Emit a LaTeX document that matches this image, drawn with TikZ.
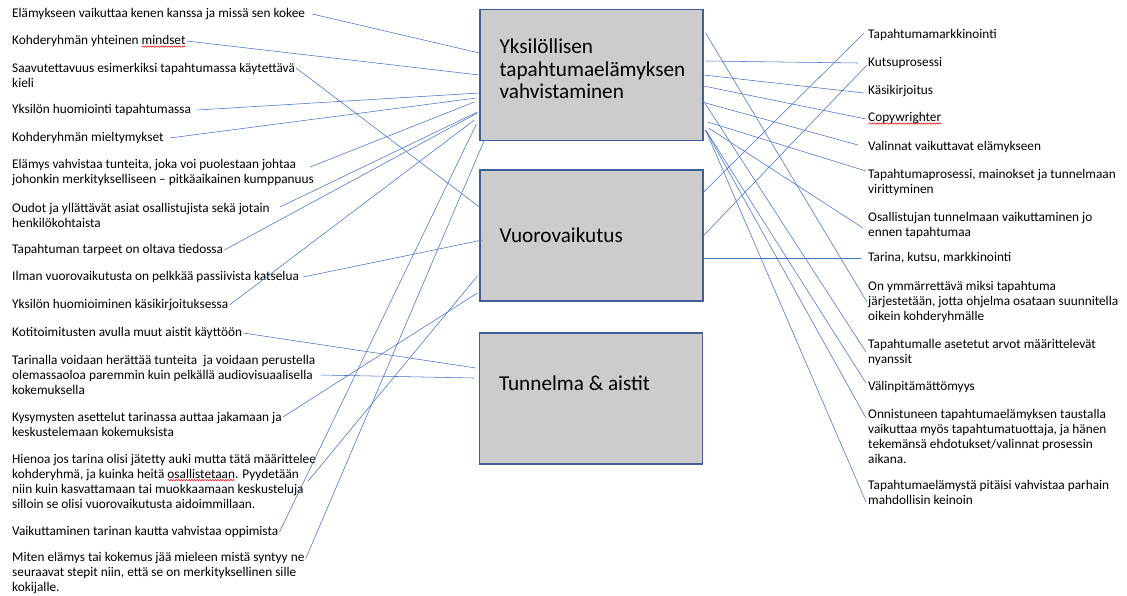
\documentclass[tikz,border=0pt]{standalone}
\usepackage{fontspec}
\setmainfont{Carlito}
\usetikzlibrary{positioning,decorations.pathmorphing}
\definecolor{linkblue}{HTML}{4472C4}
\definecolor{boxgray}{HTML}{CCCCCC}
\definecolor{boxline}{HTML}{3F5E9A}
\newsavebox\spellbox
\newcommand\spell[1]{\sbox\spellbox{#1}\rlap{\raisebox{-3pt}[0pt][0pt]{\tikz\draw[red,line width=0.5pt,decorate,decoration={snake,amplitude=0.7pt,segment length=2.6pt}] (0pt,0pt) -- (\wd\spellbox,0pt);}}#1}

\begin{document}
\begin{tikzpicture}[x=1pt,y=-1pt,
  note/.style={font=\fontsize{13.3}{15}\selectfont,align=left,inner sep=1pt,anchor=west},
  topic/.style={draw=boxline,line width=1.2pt,fill=boxgray,minimum width=223pt,minimum height=131pt,inner sep=0pt},
  topictext/.style={font=\fontsize{21.2}{22.5}\selectfont,align=left,inner sep=0pt,anchor=west},
  link/.style={draw=linkblue,line width=0.55pt}]
\useasboundingbox (0,0) rectangle (1127,595);

\node[topic] (y1) at (591.5,75) {};
\node[topic] (v1) at (591.5,235.5) {};
\node[topic] (t1) at (591,398.5) {};
\node[topictext,right=20pt of y1.west,yshift=6pt] (y1txt) {Yksilöllisen\\tapahtumaelämyksen\\vahvistaminen};
\node[topictext,right=20pt of v1.west] (v1txt) {Vuorovaikutus};
\node[topictext,right=20pt of t1.west,yshift=15pt] (t1txt) {Tunnelma \& aistit};

\node[note] (l1) at (11,14) {Elämykseen vaikuttaa kenen kanssa ja missä sen kokee};
\node[note] (l2) at (11,41) {Kohderyhmän yhteinen \spell{mindset}};
\node[note] (l3) at (11,75.5) {Saavutettavuus esimerkiksi tapahtumassa käytettävä\\kieli};
\node[note] (l4) at (11,110) {Yksilön huomiointi tapahtumassa};
\node[note] (l5) at (11,138) {Kohderyhmän mieltymykset};
\node[note] (l6) at (11,173) {Elämys vahvistaa tunteita, joka voi puolestaan johtaa\\johonkin merkitykselliseen – pitkäaikainen kumppanuus};
\node[note] (l7) at (11,215) {Oudot ja yllättävät asiat osallistujista sekä jotain\\henkilökohtaista};
\node[note] (l8) at (11,250) {Tapahtuman tarpeet on oltava tiedossa};
\node[note] (l9) at (11,277) {Ilman vuorovaikutusta on pelkkää passiivista katselua};
\node[note] (l10) at (11,305) {Yksilön huomioiminen käsikirjoituksessa};
\node[note] (l11) at (11,333) {Kotitoimitusten avulla muut aistit käyttöön};
\node[note] (l12) at (11,375) {Tarinalla voidaan herättää tunteita\ \ ja voidaan perustella\\olemassaoloa paremmin kuin pelkällä audiovisuaalisella\\kokemuksella};
\node[note] (l13) at (11,424) {Kysymysten asettelut tarinassa auttaa jakamaan ja\\keskustelemaan kokemuksista};
\node[note] (l14) at (11,481) {Hienoa jos tarina olisi jätetty auki mutta tätä määrittelee\\kohderyhmä, ja kuinka heitä \spell{osallistetaan}. Pyydetään\\niin kuin kasvattamaan tai muokkaamaan keskusteluja\\silloin se olisi vuorovaikutusta aidoimmillaan.};
\node[note] (l15) at (11,532) {Vaikuttaminen tarinan kautta vahvistaa oppimista};
\node[note] (l16) at (11,573) {Miten elämys tai kokemus jää mieleen mistä syntyy ne\\seuraavat stepit niin, että se on merkityksellinen sille\\kokijalle.};

\node[note] (r1) at (867,35) {Tapahtumamarkkinointi};
\node[note] (r2) at (867,63) {Kutsuprosessi};
\node[note] (r3) at (867,91) {Käsikirjoitus};
\node[note] (r4) at (867,118) {\spell{Copywrighter}};
\node[note] (r5) at (867,147) {Valinnat vaikuttavat elämykseen};
\node[note] (r6) at (867,182) {Tapahtumaprosessi, mainokset ja tunnelmaan\\virittyminen};
\node[note] (r7) at (867,225) {Osallistujan tunnelmaan vaikuttaminen jo\\ennen tapahtumaa};
\node[note] (r8) at (867,258) {Tarina, kutsu, markkinointi};
\node[note] (r9) at (867,302) {On ymmärrettävä miksi tapahtuma\\järjestetään, jotta ohjelma osataan suunnitella\\oikein kohderyhmälle};
\node[note] (r10) at (867,352) {Tapahtumalle asetetut arvot määrittelevät\\nyanssit};
\node[note] (r11) at (867,387) {Välinpitämättömyys};
\node[note] (r12) at (867,436) {Onnistuneen tapahtumaelämyksen taustalla\\vaikuttaa myös tapahtumatuottaja, ja hänen\\tekemänsä ehdotukset/valinnat prosessin\\aikana.};
\node[note] (r13) at (867,492) {Tapahtumaelämystä pitäisi vahvistaa parhain\\mahdollisin keinoin};

\draw[link] ([xshift=6pt]l1.east) -- ([yshift=22pt]y1.west);
\draw[link] (l2.east) -- (y1.west);
\draw[link] ([yshift=7.5pt]l3.east) -- ([yshift=28.5pt]v1.west);
\draw[link] ([xshift=5pt]l4.east) -- ([yshift=-18pt]y1.west);
\draw[link] ([xshift=5pt]l5.east) -- ([xshift=-3pt,yshift=-23pt]y1.west);
\draw[link] ([xshift=-5pt,yshift=6pt]l6.east) -- ([xshift=-5pt,yshift=-27pt]y1.west);
\draw[link] ([xshift=9pt,yshift=8pt]l7.east) -- ([xshift=-2pt,yshift=-37pt]y1.west);
\draw[link] (l8.east) -- ([xshift=-2pt,yshift=-38pt]y1.west);
\draw[link] ([xshift=3pt]l9.east) -- ([xshift=3pt,yshift=-4.5pt]v1.west);
\draw[link] (l10.east) -- ([xshift=-5pt,yshift=-45pt]y1.west);
\draw[link] (l11.east) -- ([xshift=-3pt,yshift=30.5pt]t1.west);
\draw[link] ([xshift=4pt]l12.east) -- ([xshift=-5pt,yshift=20.5pt]t1.west);
\draw[link] ([yshift=7pt]l13.east) -- ([xshift=-2pt,yshift=-57.5pt]v1.west);
\draw[link] ([xshift=-9pt]l14.east) -- ([xshift=-2pt,yshift=-40.5pt]v1.west);
\draw[link] (l15.east) -- ([xshift=-3pt,yshift=-49pt]y1.west);
\draw[link] ([yshift=14pt]l16.east) -- ([xshift=5pt,yshift=1pt]y1.south west);

\draw[link] ([xshift=2pt,yshift=42pt]y1.east) -- (r9.west);
\draw[link] ([xshift=2pt,yshift=14pt]y1.east) -- ([xshift=-9pt]r2.west);
\draw[link] (y1.east) -- ([xshift=-3pt,yshift=-2pt]r3.west);
\draw[link] ([yshift=-11pt]y1.east) -- ([xshift=-1pt,yshift=-1pt]r4.west);
\draw[link] ([xshift=-2pt,yshift=-23pt]y1.east) -- ([xshift=-1pt]r10.west);
\draw[link] ([xshift=2pt,yshift=-28pt]y1.east) -- ([xshift=-9pt,yshift=2pt]r5.west);
\draw[link] ([xshift=4pt,yshift=-47pt]y1.east) -- ([xshift=-1pt,yshift=11pt]r6.west);
\draw[link] ([xshift=5pt,yshift=-53pt]y1.east) -- ([xshift=-4pt,yshift=-3pt]r7.west);
\draw[link] ([xshift=2pt,yshift=-55pt]y1.east) -- ([xshift=-1pt,yshift=4pt]r11.west);
\draw[link] ([xshift=2pt,yshift=-55pt]y1.east) -- ([xshift=-1pt,yshift=18pt]r12.west);
\draw[link] ([xshift=2pt,yshift=-55pt]y1.east) -- ([xshift=-1pt,yshift=-10pt]r13.west);
\draw[link] ([yshift=43.5pt]v1.east) -- ([xshift=-3pt,yshift=2pt]r1.west);
\draw[link] (v1.east) -- ([yshift=-2pt]r2.west);
\draw[link] ([yshift=-22.5pt]v1.east) -- ([xshift=-6pt]r8.west);
\end{tikzpicture}
\end{document}
